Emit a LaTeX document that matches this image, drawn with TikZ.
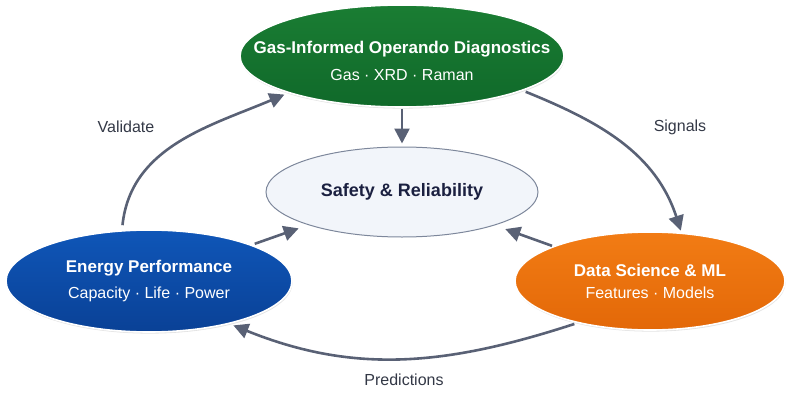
\documentclass[tikz,border=0pt]{standalone}
\usepackage{fontspec}
\setmainfont{Liberation Sans}
\setsansfont{Liberation Sans}
\usepackage{xcolor}
\usetikzlibrary{arrows.meta,positioning,shapes.geometric,shadows}
\definecolor{loopgreen}{HTML}{1A7D33}
\definecolor{loopgreendk}{HTML}{10692A}
\definecolor{loopblue}{HTML}{0F56B8}
\definecolor{loopbluedk}{HTML}{0A4196}
\definecolor{looporange}{HTML}{F27C14}
\definecolor{looporangedk}{HTML}{E36808}
\definecolor{corefill}{HTML}{F2F5FA}
\definecolor{coreline}{HTML}{7D879B}
\definecolor{coretext}{HTML}{1B2040}
\definecolor{flowgray}{HTML}{596175}
\definecolor{labeltext}{HTML}{333846}

\begin{document}
\begin{tikzpicture}[
  x=1pt, y=1pt,
  font=\sffamily,
  hub/.style={ellipse, draw=white, line width=1.6pt, inner sep=0pt,
    top color=#1, bottom color=#1dk,
    drop shadow={shadow xshift=0.6pt, shadow yshift=-1.6pt, opacity=0.22}},
  hubtext/.style={align=center, text=white, inner sep=0pt},
  core/.style={ellipse, draw=coreline, line width=1pt, fill=corefill, inner sep=0pt},
  coretxt/.style={text=coretext, inner sep=0pt, font=\sffamily\bfseries\fontsize{18}{22}\selectfont},
  flowlabel/.style={text=labeltext, font=\sffamily\fontsize{16}{19}\selectfont},
  arrow/.style={-{Triangle[length=15pt,width=15pt]}, line width=2.6pt, draw=flowgray},
  link/.style={arrow, shorten <=1pt, shorten >=3pt}
]
\useasboundingbox (0,0) rectangle (799,-409);

\node[hub=loopgreen, minimum width=324pt, minimum height=102pt] (diag) at (402,-56) {};
\node[hubtext, yshift=-5pt] (diagtext) at (diag.center)
  {{\bfseries\fontsize{17}{21}\selectfont Gas-Informed Operando Diagnostics}\\[11pt]
   {\fontsize{16}{19}\selectfont Gas · XRD · Raman}};
\node[core, minimum width=272pt, minimum height=90pt] (safety) at (402,-192) {};
\node[coretxt] (safetytext) at (safety.center) {Safety \& Reliability};
\node[hub=loopblue, minimum width=286pt, minimum height=102pt] (energy) at (149,-281) {};
\node[hubtext] (energytext) at (energy.center)
  {{\bfseries\fontsize{17}{21}\selectfont Energy Performance}\\[10pt]
   {\fontsize{16}{19}\selectfont Capacity · Life · Power}};
\node[hub=looporange, minimum width=270pt, minimum height=98pt] (datasci) at (650,-281) {};
\node[hubtext] (datascitext) at (datasci.center)
  {{\bfseries\fontsize{17}{21}\selectfont Data Science \& ML}\\[10pt]
   {\fontsize{16}{19}\selectfont Features · Models}};

\node[flowlabel] (validate) at (126,-127) {Validate};
\node[flowlabel] (signals) at (680,-127) {Signals};
\node[flowlabel] (predict) at (404,-380) {Predictions};

% outer loop
\draw[arrow, shorten <=5pt, shorten >=4pt] (energy.118) to[out=84, in=203] (diag.198);
\draw[arrow, shorten <=3pt, shorten >=2pt] (diag.-16) to[out=-22, in=108] (datasci.57);
\draw[arrow, shorten <=3pt, shorten >=4pt] (datasci.210) to[out=198, in=-22] (energy.-28);

% into the core
\draw[link] (diag) -- (safety);
\draw[link, shorten <=3pt, shorten >=10pt] (energy) -- (safety);
\draw[link, shorten >=11pt] (datasci) -- (safety);

\end{tikzpicture}
\end{document}
